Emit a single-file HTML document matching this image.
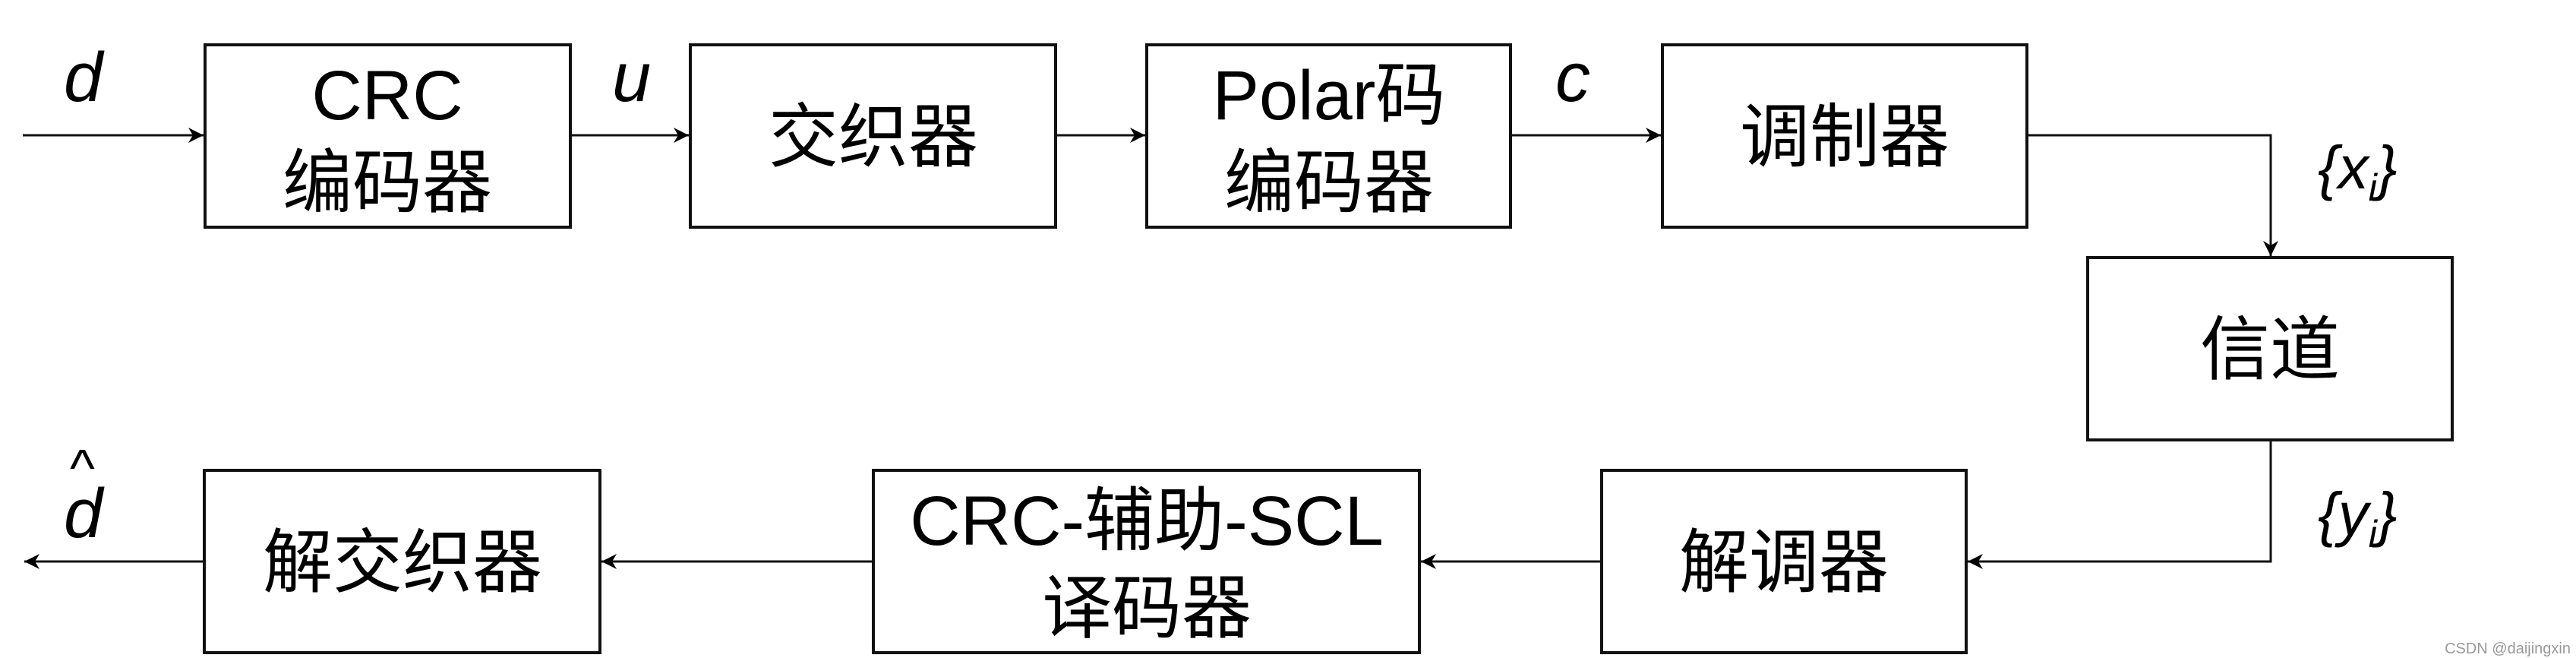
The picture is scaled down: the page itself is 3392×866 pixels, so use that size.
<!DOCTYPE html>
<html><head><meta charset="utf-8"><style>
html,body{margin:0;padding:0;background:#fff;}
svg{display:block;}
text{font-family:"Liberation Sans","Noto Sans CJK SC",sans-serif;fill:#000;}
</style></head><body>
<svg width="3392" height="866" viewBox="0 0 3392 866" xmlns="http://www.w3.org/2000/svg">
<defs><marker id="a" viewBox="0 0 20 20" refX="20" refY="10" markerWidth="20" markerHeight="20" markerUnits="userSpaceOnUse" orient="auto"><path d="M0,0 L20,10 L0,20 L6,10 Z" fill="#000"/></marker></defs>
<g fill="none" stroke="#111" stroke-width="4">
<rect x="270" y="59" width="481" height="240"/>
<rect x="909" y="59" width="481" height="240"/>
<rect x="1510" y="59" width="479" height="240"/>
<rect x="2189" y="59" width="480" height="240"/>
<rect x="2749" y="339" width="480" height="240"/>
<rect x="269" y="619" width="521" height="240"/>
<rect x="1150" y="619" width="719" height="240"/>
<rect x="2109" y="619" width="480" height="240"/>
</g>
<g fill="none" stroke="#111" stroke-width="3" marker-end="url(#a)">
<line x1="30" y1="178" x2="268" y2="178"/>
<line x1="751" y1="178" x2="907" y2="178"/>
<line x1="1390" y1="178" x2="1508" y2="178"/>
<line x1="1989" y1="178" x2="2187" y2="178"/>
<polyline points="2669,178 2990,178 2990,337"/>
<polyline points="2990,579 2990,739 2591,739"/>
<line x1="2109" y1="739" x2="1871" y2="739"/>
<line x1="1150" y1="739" x2="792" y2="739"/>
<line x1="269" y1="739" x2="32" y2="739"/>
</g>
<g font-size="92" text-anchor="middle">
<text x="510" y="157">CRC</text>
<text x="510" y="272">编码器</text>
<text x="1150" y="212">交织器</text>
<text x="1750" y="157">Polar码</text>
<text x="1750" y="272">编码器</text>
<text x="2429" y="212">调制器</text>
<text x="2989" y="492">信道</text>
<text x="530" y="772">解交织器</text>
<text x="1510" y="717">CRC-辅助-SCL</text>
<text x="1510" y="832">译码器</text>
<text x="2349" y="772">解调器</text>
</g>
<g font-size="92" font-style="italic">
<text x="84" y="133">d</text>
<text x="806" y="133">u</text>
<text x="2048" y="133">c</text>
<text x="84" y="707">d</text>
<text x="92" y="640" font-size="70" font-style="normal">^</text>
<text x="3052" y="248" font-size="80">{x<tspan font-size="50" dy="16">i</tspan><tspan dy="-16">}</tspan></text>
<text x="3052" y="704" font-size="80">{y<tspan font-size="50" dy="16">i</tspan><tspan dy="-16">}</tspan></text>
</g>
<text x="3385" y="860" font-size="20" fill="#999" style="fill:#999" text-anchor="end">CSDN @daijingxin</text>
</svg>
</body></html>
